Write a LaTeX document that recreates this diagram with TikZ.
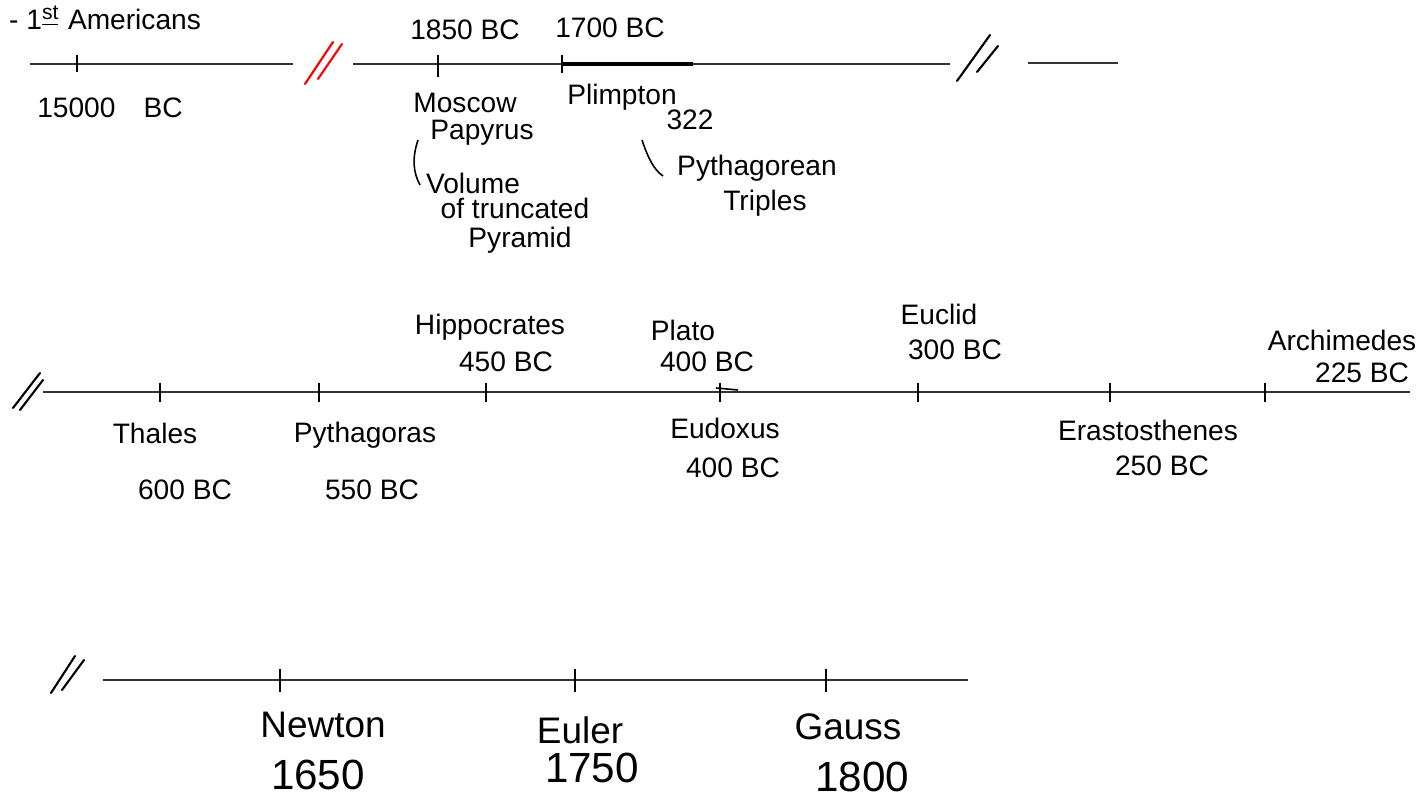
\documentclass[tikz,border=0pt]{standalone}
\usepackage{fontspec}
\setmainfont{Liberation Sans}
\usetikzlibrary{calc}
\tikzset{
  axis/.style={line width=0.5pt,black!80},
  tickmark/.style={line width=0.45pt},
  breakmark/.style={line width=0.6pt,line cap=round},
  lab/.style={font=\fontsize{8}{10}\selectfont,inner sep=1pt},
  midlab/.style={font=\fontsize{10.5}{12}\selectfont,inner sep=1pt},
  biglab/.style={font=\fontsize{12}{14}\selectfont,inner sep=1pt}
}
\begin{document}
\begin{tikzpicture}[x=0.01cm,y=-0.01cm]
\useasboundingbox (0,0) rectangle (1419,801);
% top line
\coordinate (A1) at (30,64);   \coordinate (A2) at (293,64);
\coordinate (B1) at (353,64);  \coordinate (B2) at (950,64);
\coordinate (C1) at (1028,63); \coordinate (C2) at (1118,63);
\coordinate (tA) at (77,64);
\coordinate (tB) at (438,64);
\coordinate (tC) at (562,64);
\coordinate (tCe) at (693,64);
\draw[axis] (A1)--(A2);
\draw[axis] (B1)--(B2);
\draw[axis] (C1)--(C2);
\draw[line width=1.1pt] (tC)--(tCe);
\draw[tickmark] ($(tA)+(0,-9)$)--($(tA)+(0,8)$);
\draw[tickmark] ($(tB)+(0,-9)$)--($(tB)+(0,13)$);
\draw[tickmark] ($(tC)+(0,-9)$)--($(tC)+(0,9)$);
\draw[breakmark,red] (305,84)--(333,42);
\draw[breakmark,red] (318,79)--(342,44);
\draw[breakmark] (957,81)--(990,35);
\draw[breakmark] (977,72)--(998,46);
\node[lab,anchor=west] (amer) at (5,18) {- 1\textsuperscript{\underline{st}} Americans};
\node[lab] (y15000) at (110,108) {15000\quad BC};
\node[lab] (y1850) at (465,30) {1850 BC};
\node[lab] (y1700) at (610,28) {1700 BC};
\node[lab] (mosc) at (465,103) {Moscow};
\node[lab] (papy) at (482,133) {Papyrus};
\node[lab] (volu) at (473,183) {Volume};
\node[lab] (trun) at (515,208) {of truncated};
\node[lab] (pyra) at (520,240) {Pyramid};
\node[lab] (plim) at (622,97) {Plimpton};
\node[lab] (p322) at (690,120) {322};
\node[lab] (pyth) at (757,168) {Pythagorean};
\node[lab] (trip) at (765,203) {Triples};
\coordinate (br1) at (418,140); \coordinate (br2) at (420,185);
\draw[tickmark] (br1) .. controls (412,158) and (413,172) .. (br2);
\coordinate (sl1) at (642,140); \coordinate (sl2) at (663,176);
\draw[tickmark] (sl1) .. controls (648,158) and (654,170) .. (sl2);
% middle line
\coordinate (M1) at (43,392); \coordinate (M2) at (1410,392);
\draw[axis] (M1)--(M2);
\draw[breakmark] (13,408)--(40,373);
\draw[breakmark] (20,410)--(43,380);
\foreach \x/\n in {160/th,319/py,486/hi,720/pl,918/eu,1110/er,1265/ar}{
  \coordinate (t\n) at (\x,392);
  \draw[tickmark] ($(t\n)+(0,-9)$)--($(t\n)+(0,10)$);
}
\draw[tickmark] ($(tpl)+(-4,-4)$)--($(tpl)+(18,-2)$);
\node[lab] (thal) at (155,433) {Thales};
\node[lab] (thaly) at (185,490) {600 BC};
\node[lab] (pyt) at (365,435) {Pythagoras};
\node[lab] (pyty) at (372,490) {550 BC};
\node[lab] (hipp) at (490,327) {Hippocrates};
\node[lab] (hippy) at (506,362) {450 BC};
\node[lab] (plat) at (683,330) {Plato};
\node[lab] (platy) at (707,362) {400 BC};
\node[lab] (eudo) at (725,428) {Eudoxus};
\node[lab] (eudoy) at (733,468) {400 BC};
\node[lab] (eucl) at (939,314) {Euclid};
\node[lab] (eucly) at (955,350) {300 BC};
\node[lab] (eras) at (1148,430) {Erastosthenes};
\node[lab] (erasy) at (1162,466) {250 BC};
\node[lab] (arch) at (1342,340) {Archimedes};
\node[lab] (archy) at (1362,373) {225 BC};
% bottom line
\coordinate (N1) at (103,680); \coordinate (N2) at (968,680);
\draw[axis] (N1)--(N2);
\draw[breakmark] (51,693)--(75,656);
\draw[breakmark] (62,690)--(84,660);
\foreach \x/\n in {280/ne,575/el,826/ga}{
  \coordinate (t\n) at (\x,680);
  \draw[tickmark] ($(t\n)+(0,-11)$)--($(t\n)+(0,12)$);
}
\node[midlab] (newt) at (323,725) {Newton};
\node[biglab] (newty) at (318,775) {1650};
\node[midlab] (eule) at (580,730) {Euler};
\node[biglab] (euley) at (592,768) {1750};
\node[midlab] (gaus) at (848,727) {Gauss};
\node[biglab] (gausy) at (862,777) {1800};
\end{tikzpicture}
\end{document}
